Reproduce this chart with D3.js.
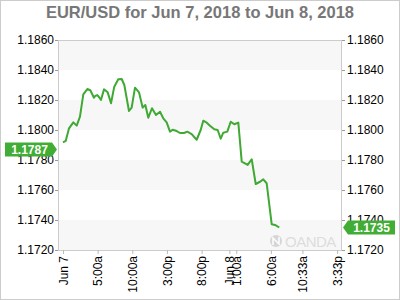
<!DOCTYPE html>
<html>
<head>
<meta charset="utf-8">
<script src="https://cdn.jsdelivr.net/npm/d3@7"></script>
<style>
  body { margin: 0; background: #fff; }
  svg { display: block; font-family: "Liberation Sans", Arial, sans-serif; }
</style>
</head>
<body>
<div id="chart"></div>
<script>

// chart data
var title = "EUR/USD for Jun 7, 2018 to Jun 8, 2018";

var y_ticks = [1.1720, 1.1740, 1.1760, 1.1780, 1.1800, 1.1820, 1.1840, 1.1860];

// x ticks, hours after Jun 7 00:00
var x_tick_hours = [0, 5, 10, 15, 20, 24, 25, 30, 34.55, 39.55];
var x_tick_labels = ["Jun 7", "5:00a", "10:00a", "3:00p", "8:00p", "Jun 8", "1:00a", "6:00a", "10:33a", "3:33p"];

// price series, hours after Jun 7 00:00
var series_hours = [0, 0.39, 0.87, 1.49, 1.98, 2.45, 2.93, 3.51, 3.94, 4.47, 4.66, 4.95, 5.19, 5.48,
  5.92, 6.45, 6.93, 7.40, 7.98, 8.47, 8.85, 9.52, 9.91, 10.39, 10.97, 11.50, 11.88, 12.31, 12.84,
  13.42, 14.0, 14.47, 14.96, 15.44, 15.83, 16.41, 16.88, 17.46, 17.94, 18.57, 19.29, 19.87, 20.24,
  20.74, 21.21, 21.83, 22.32, 22.76, 23.13, 23.71, 24.20, 24.72, 25.30, 25.79, 26.65, 27.23, 27.81,
  28.43, 28.90, 29.39, 30.12, 30.59, 31.21];
var series_prices = [1.17918, 1.17927, 1.18011, 1.18051, 1.18029, 1.18089, 1.18238, 1.18273, 1.18265,
  1.18215, 1.18227, 1.18233, 1.18220, 1.18200, 1.18271, 1.18251, 1.18178, 1.18289, 1.18338, 1.18340,
  1.18300, 1.18127, 1.18149, 1.18282, 1.18251, 1.18149, 1.18167, 1.18082, 1.18145, 1.18100, 1.18122,
  1.18078, 1.18051, 1.17989, 1.18002, 1.17993, 1.17980, 1.17980, 1.17989, 1.17973, 1.17935, 1.18000,
  1.18062, 1.18049, 1.18029, 1.18005, 1.18000, 1.17942, 1.17982, 1.17989, 1.18055, 1.18038, 1.18049,
  1.17789, 1.17767, 1.17805, 1.17640, 1.17655, 1.17671, 1.17645, 1.17371, 1.17367, 1.17350];

var open_price = 1.1787;
var last_price = 1.1735;

var x_domain_hours = [-0.72, 40.26];
var y_domain = [1.1720, 1.1860];


function draw_chart(){

  var start = new Date(2018, 5, 7, 0, 0);
  function to_date(h){ return new Date(start.getTime() + h * 3600000); }

  var line_color = '#3fa934';
  var label_color = '#41ad35';
  var band_color = '#f7f7f7';
  var frame_color = '#cccccc';
  var axis_font = '12px "Liberation Sans", Arial, sans-serif';

  var margin = {top: 40, right: 58, bottom: 50, left: 58},
      width = 400 - margin.left - margin.right,
      height = 300 - margin.top - margin.bottom;

  var x = d3.scaleTime()
      .domain(x_domain_hours.map(to_date))
      .range([0, width]);
  var y = d3.scaleLinear().domain(y_domain).range([height, 0]);

  var svg_root = d3.select('#chart').append('svg')
      .attr('width', 400)
      .attr('height', 300);

  // outer frame
  svg_root.append('rect')
      .attr('x', 0.5).attr('y', 0.5)
      .attr('width', 399).attr('height', 299)
      .style('fill', 'none')
      .style('stroke', frame_color);

  // title
  svg_root.append('text')
      .attr('x', 200)
      .attr('y', 18)
      .attr('text-anchor', 'middle')
      .style('font', 'bold 16.5px "Liberation Sans", Arial, sans-serif')
      .style('fill', '#777777')
      .text(title);

  var svg = svg_root.append('g')
      .attr('transform', 'translate(' + margin.left + ',' + margin.top + ')');

  // alternating bands
  for(var i = 0; i < y_ticks.length - 1; i++){
    if(i % 2 == 0){
      svg.append('rect')
          .attr('x', 0)
          .attr('y', y(y_ticks[i + 1]))
          .attr('width', width)
          .attr('height', y(y_ticks[i]) - y(y_ticks[i + 1]))
          .style('fill', band_color);
    }
  }

  // plot frame
  svg.append('rect')
      .attr('x', 0.5).attr('y', 0.5)
      .attr('width', width - 1).attr('height', height)
      .style('fill', 'none')
      .style('stroke', frame_color);

  // watermark
  var wm = svg.append('g').attr('transform', 'translate(' + (width - 66) + ',' + (height - 9) + ')');
  wm.append('circle').attr('cx', 0).attr('cy', 0).attr('r', 6).style('fill', '#d6d6d6');
  wm.append('path').attr('d', 'M-3,4 L-3,-3 L3,3 L3,-4').style('fill', 'none')
      .style('stroke', '#ffffff').style('stroke-width', 1.5);
  wm.append('text').attr('x', 9).attr('y', 5.5)
      .style('font', '15px "Liberation Sans", Arial, sans-serif')
      .style('fill', '#dddddd')
      .style('letter-spacing', '-0.5px')
      .text('OANDA');

  // y axes
  var y_left = svg.append('g')
      .style('font', axis_font)
      .call(d3.axisLeft(y).tickValues(y_ticks).tickFormat(d3.format('.4f')).tickSize(3).tickPadding(1));
  var y_right = svg.append('g')
      .attr('transform', 'translate(' + width + ',0)')
      .style('font', axis_font)
      .call(d3.axisRight(y).tickValues(y_ticks).tickFormat(d3.format('.4f')).tickSize(3).tickPadding(2));
  [y_left, y_right].forEach(function(a){
    a.select('.domain').remove();
    a.selectAll('line').style('stroke', '#999');
    a.selectAll('text').style('fill', '#000');
  });

  // x axis
  var x_axis = svg.append('g')
      .attr('transform', 'translate(0,' + height + ')')
      .style('font', axis_font)
      .call(d3.axisBottom(x)
        .tickValues(x_tick_hours.map(to_date))
        .tickFormat(function(d, i){ return x_tick_labels[i]; })
        .tickSize(4));
  x_axis.select('.domain').remove();
  x_axis.selectAll('line').style('stroke', '#bbb');
  x_axis.selectAll('text')
      .style('fill', '#000')
      .style('text-anchor', 'end')
      .attr('x', -6)
      .attr('y', 0)
      .attr('dy', '.35em')
      .attr('transform', 'rotate(-90)');

  // price line
  var data = series_hours.map(function(h, i){
    return {date: to_date(h), price: series_prices[i]};
  });
  var valueline = d3.line()
      .x(function(d){ return x(d.date); })
      .y(function(d){ return y(d.price); });
  svg.append('path')
      .datum(data)
      .attr('d', valueline)
      .style('fill', 'none')
      .style('stroke', line_color)
      .style('stroke-width', 2)
      .style('stroke-linejoin', 'round');

  // price labels
  function price_tag(value, side){
    var cy = y(value);
    var g = svg.append('g');
    var w = 47, h = 14, tip = 5;
    var pts;
    if(side == 'left'){
      var x1 = -1, x0 = x1 - tip - w;
      pts = [[x0, cy - h/2], [x1 - tip, cy - h/2], [x1, cy], [x1 - tip, cy + h/2], [x0, cy + h/2]];
      g.append('polygon').attr('points', pts.join(' ')).style('fill', label_color);
      g.append('text').attr('x', x0 + (w) / 2 + 1).attr('y', cy + 4.5)
          .attr('text-anchor', 'middle')
          .style('font', 'bold 12px "Liberation Sans", Arial, sans-serif')
          .style('fill', '#fff').text(d3.format('.4f')(value));
    }else{
      var x1r = width + 1, x2 = x1r + tip + w;
      pts = [[x2, cy - h/2], [x1r + tip, cy - h/2], [x1r, cy], [x1r + tip, cy + h/2], [x2, cy + h/2]];
      g.append('polygon').attr('points', pts.join(' ')).style('fill', label_color);
      g.append('text').attr('x', x1r + tip + w / 2).attr('y', cy + 4.5)
          .attr('text-anchor', 'middle')
          .style('font', 'bold 12px "Liberation Sans", Arial, sans-serif')
          .style('fill', '#fff').text(d3.format('.4f')(value));
    }
  }
  price_tag(open_price, 'left');
  price_tag(last_price, 'right');
}

draw_chart();
</script>
</body>
</html>
